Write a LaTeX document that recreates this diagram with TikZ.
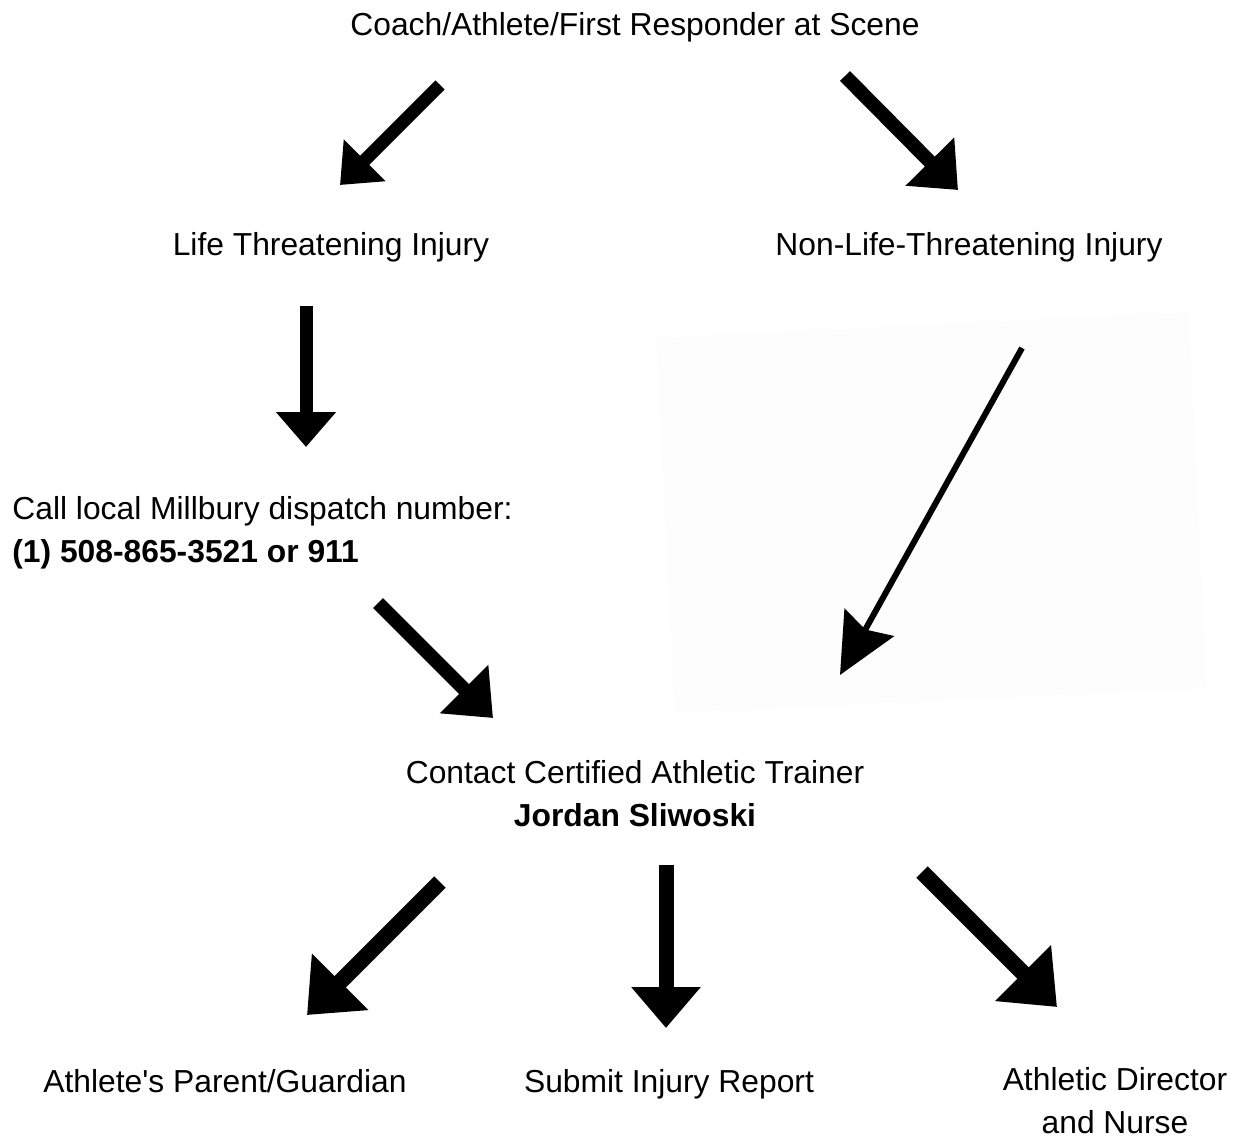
\documentclass[tikz,border=0pt]{standalone}
\usepackage{fontspec}
\setmainfont{Liberation Sans}
\usetikzlibrary{arrows.meta,positioning}
\tikzset{lbl/.style={font=\fontsize{15.9}{21.5}\selectfont,inner sep=0pt,align=center}}
\tikzset{flow/.style n args={3}{-{Triangle[length=#1,width=#2]},line width=#3}}
\tikzset{thinflow/.style={-{Stealth[length=30pt,width=28pt,inset=4pt]},line width=3pt}}

\begin{document}
\begin{tikzpicture}[x=0.5pt,y=-0.5pt]
\useasboundingbox (0,0) rectangle (1239,1140);
% pasted box behind the right arrow
\fill[black!0.8] (656,338) -- (1189,312) -- (1207,688) -- (674,713) -- cycle;

    \node[lbl,anchor=base] (scene) at (635,35) {Coach/Athlete/First Responder at Scene};
    \node[lbl,anchor=base] (life) at (331,255) {Life Threatening Injury};
    \node[lbl,anchor=base] (nonlife) at (969,255) {Non-Life-Threatening Injury};
    \node[lbl,anchor=base west,align=left] (call) at (12,562) {Call local Millbury dispatch number:\\\textbf{(1) 508-865-3521 or 911}};
    \node[lbl,anchor=base] (trainer) at (635,826) {Contact Certified Athletic Trainer\\\textbf{Jordan Sliwoski}};
    \node[lbl,anchor=base] (parent) at (225,1092) {Athlete\textquotesingle s Parent/Guardian};
    \node[lbl,anchor=base] (report) at (669,1092) {Submit Injury Report};
    \node[lbl,anchor=base] (director) at (1115,1133) {Athletic Director\\and Nurse};

    \coordinate (a1) at (440,85);   \coordinate (b1) at (340,185);
    \coordinate (a2) at (845,76);   \coordinate (b2) at (958,190);
    \coordinate (a3) at (306,306);  \coordinate (b3) at (306,447);
    \coordinate (a4) at (378,603);  \coordinate (b4) at (493,718);
    \coordinate (a5) at (1022,348); \coordinate (b5) at (840,675);
    \coordinate (a6) at (440,882);  \coordinate (b6) at (307,1015);
    \coordinate (a7) at (666,865);  \coordinate (b7) at (666,1028);
    \coordinate (a8) at (922,872);  \coordinate (b8) at (1057,1007);

    \draw[flow={17.5pt}{28.5pt}{6.5pt}] (a1) -- (b1);
    \draw[flow={20pt}{33pt}{7pt}] (a2) -- (b2);
    \draw[flow={17.5pt}{29pt}{6.5pt}] (a3) -- (b3);
    \draw[flow={20.5pt}{33pt}{7pt}] (a4) -- (b4);
    \draw[thinflow] (a5) -- (b5);
    \draw[flow={23.5pt}{38.5pt}{8pt}] (a6) -- (b6);
    \draw[flow={20.5pt}{33.5pt}{7.5pt}] (a7) -- (b7);
    \draw[flow={24pt}{38pt}{8pt}] (a8) -- (b8);
\end{tikzpicture}
\end{document}
